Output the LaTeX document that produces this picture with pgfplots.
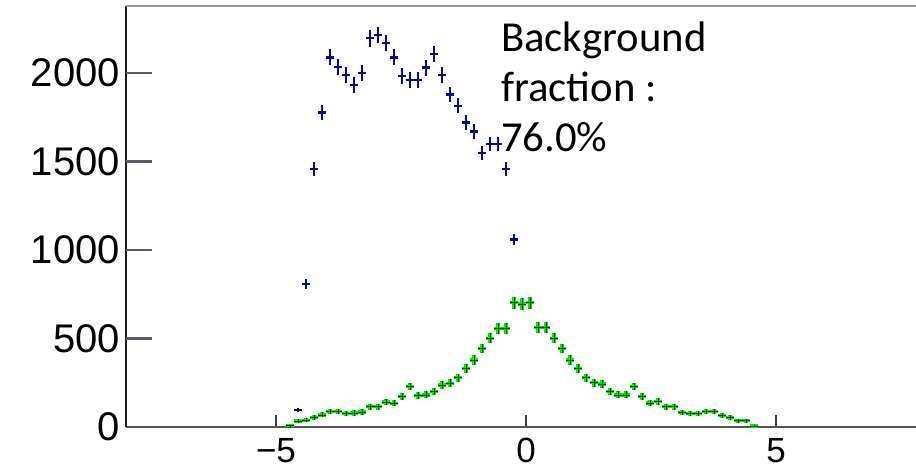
\documentclass[border=0pt]{standalone}
\usepackage{pgfplots}
\usepackage{pgfplotstable}
\pgfplotsset{compat=1.18}
\usepackage{fontspec}
\setmainfont{Liberation Sans}
\newfontfamily\carlito{Carlito}
\definecolor{bl}{RGB}{10,10,150}
\definecolor{gr}{RGB}{0,235,0}
\definecolor{grcore}{RGB}{0,60,0}
\definecolor{tickgray}{RGB}{60,60,72}
\definecolor{ytickc}{RGB}{90,90,104}
\definecolor{xaxgray}{RGB}{85,85,85}
\definecolor{yaxgray}{RGB}{30,30,30}
\definecolor{topgray}{RGB}{150,150,150}

\pgfplotstableread{
x y ey
-4.56 95 9.7
-4.40 808 28.4
-4.24 1456 38.2
-4.08 1776 42.1
-3.92 2088 45.7
-3.76 2035 45.1
-3.60 1989 44.6
-3.44 1932 44.0
-3.28 1998 44.7
-3.12 2196 46.9
-2.96 2215 47.1
-2.80 2168 46.6
-2.64 2088 45.7
-2.48 1983 44.5
-2.32 1960 44.3
-2.16 1960 44.3
-2.00 2030 45.1
-1.84 2107 45.9
-1.68 1989 44.6
-1.52 1879 43.3
-1.36 1814 42.6
-1.20 1720 41.5
-1.04 1668 40.8
-0.88 1546 39.3
-0.72 1599 40.0
-0.56 1599 40.0
-0.40 1456 38.2
-0.24 1060 32.6
}\bgdata

\pgfplotstableread{
x y ey
-4.72 7 6
-4.56 34 11
-4.40 38 12
-4.24 55 13
-4.08 68 14
-3.92 86 15
-3.76 86 15
-3.60 75 15
-3.44 79 15
-3.28 85 15
-3.12 115 17
-2.96 115 17
-2.80 141 18
-2.64 134 18
-2.48 171 19
-2.32 228 21
-2.16 177 19
-2.00 181 20
-1.84 200 20
-1.68 237 21
-1.52 247 22
-1.36 279 23
-1.20 331 24
-1.04 379 26
-0.88 444 27
-0.72 501 28
-0.56 558 30
-0.40 558 30
-0.24 702 33
-0.08 695 33
0.08 702 33
0.24 561 30
0.40 561 30
0.56 501 28
0.72 444 27
0.88 379 26
1.04 331 24
1.20 279 23
1.36 250 22
1.52 243 22
1.68 200 20
1.84 181 20
2.00 181 20
2.16 228 21
2.32 171 19
2.48 136 18
2.64 143 18
2.80 115 17
2.96 115 17
3.12 83 15
3.28 77 15
3.44 77 15
3.60 86 15
3.76 86 15
3.92 64 14
4.08 53 13
4.24 36 12
4.40 36 12
4.56 5 6
}\sigdata

\begin{document}
\begin{tikzpicture}
\begin{axis}[
  at={(0,0)}, anchor=south west,
  scale only axis, width=790pt, height=421pt,
  xmin=-8, xmax=7.8, ymin=0, ymax=2378,
  axis x line*=bottom, axis y line*=left,
  x axis line style={line width=2.5pt, xaxgray},
  y axis line style={line width=2pt, yaxgray},
  xtick={-5,0,5}, xticklabels={−5,0,5},
  ytick={0,500,1000,1500,2000},
  yticklabels={0,500,1000,1500,2000},
  minor tick num=0,
  tick align=inside,
  major tick length=12pt,
  tick style={line width=2.2pt, tickgray},
  xticklabel style={font=\fontsize{35}{35}\selectfont, inner sep=0pt, yshift=-11pt},
  yticklabel style={font=\fontsize{40}{40}\selectfont, inner sep=0pt, xshift=-6pt},
  clip=false,
]
\draw[line width=2.5pt, topgray] (rel axis cs:0,1) -- (rel axis cs:1,1);
% longer y tick marks (axis decoration)
\addplot[line width=2.6pt, ytickc, mark=none, forget plot] coordinates {(-8,500) (-7.48,500)};
\addplot[line width=2.6pt, ytickc, mark=none, forget plot] coordinates {(-8,1000) (-7.48,1000)};
\addplot[line width=2.6pt, ytickc, mark=none, forget plot] coordinates {(-8,1500) (-7.48,1500)};
\addplot[line width=2.6pt, ytickc, mark=none, forget plot] coordinates {(-8,2000) (-7.48,2000)};

\addplot[draw=none, mark=none, forget plot,
  error bars/.cd, x dir=both, x fixed=0.08, y dir=both, y explicit,
  error mark=none, error bar style={draw=bl, solid, line width=2.4pt}]
  table[x=x, y=y, y error=ey] {\bgdata};

\addplot[draw=none, mark=none, forget plot,
  error bars/.cd, x dir=both, x fixed=0.08, y dir=both, y explicit,
  error mark=none, error bar style={draw=gr, solid, line width=3.4pt}]
  table[x=x, y=y, y error=ey] {\sigdata};
\addplot[draw=none, mark=none, forget plot,
  error bars/.cd, x dir=both, x fixed=0.08, y dir=both, y explicit,
  error mark=none, error bar style={draw=grcore, solid, line width=0.6pt}]
  table[x=x, y=y, y error=ey] {\sigdata};

\node[anchor=base west, inner sep=0pt, font=\carlito\fontsize{42.7}{50}\selectfont] at (axis cs:-0.5,2119) {Background};
\node[anchor=base west, inner sep=0pt, font=\carlito\fontsize{42.7}{50}\selectfont] at (axis cs:-0.5,1836) {fraction :};
\node[anchor=base west, inner sep=0pt, font=\carlito\fontsize{42.7}{50}\selectfont] at (axis cs:-0.5,1554) {76.0\%};
\end{axis}
\pgfresetboundingbox
\path[use as bounding box] (-126pt,-45pt) rectangle (790pt,427pt);
\end{tikzpicture}
\end{document}
